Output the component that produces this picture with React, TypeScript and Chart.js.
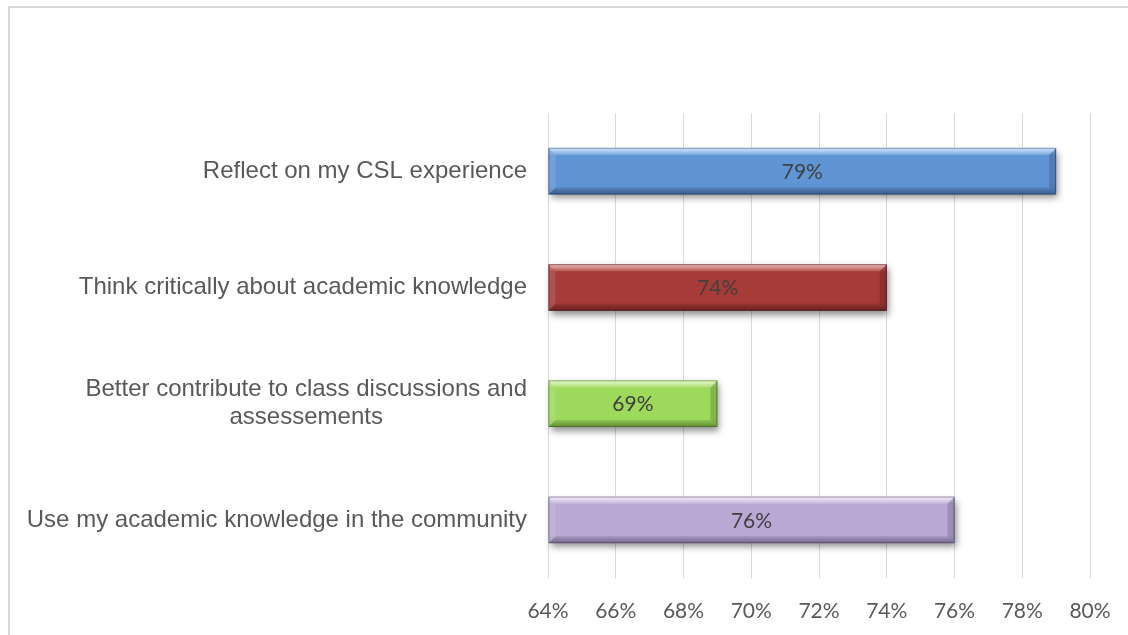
import React, { useEffect, useRef } from "react";
import { Chart, registerables } from "chart.js";

Chart.register(...registerables);

const categories: string[][] = [
  ["Reflect on my CSL experience"],
  ["Think critically about academic knowledge"],
  ["Better contribute to class discussions and", "assessements"],
  ["Use my academic knowledge in the community"],
];
const values: number[] = [79, 74, 69, 76];
const xTicks: number[] = [64, 66, 68, 70, 72, 74, 76, 78, 80];

// [top highlight, main, bottom, border]
const barPalettes: string[][] = [
  ["#a9cdf6", "#5f94d5", "#4e7fc0", "#3a649c"],
  ["#d9807b", "#a63b37", "#8e2f2b", "#6c2220"],
  ["#cdf4a0", "#9dd95b", "#87c346", "#689833"],
  ["#e4daf2", "#b9a8d4", "#a291c1", "#7b6b97"],
];

const BAR_PCT = 0.4;

export default function App() {
  const ref = useRef<HTMLCanvasElement>(null);

  useEffect(() => {
    document.body.style.margin = "0";
    const canvas = ref.current!;

    const framePlugin = {
      id: "frame",
      beforeDraw(chart: any) {
        const ctx = chart.ctx;
        ctx.save();
        ctx.fillStyle = "#ffffff";
        ctx.fillRect(0, 0, chart.width, chart.height);
        ctx.strokeStyle = "#d9d9d9";
        ctx.lineWidth = 2;
        ctx.beginPath();
        ctx.moveTo(9, chart.height + 5);
        ctx.lineTo(9, 7);
        ctx.lineTo(chart.width + 5, 7);
        ctx.stroke();
        ctx.restore();
      },
    };

    const barRect = (bar: any) => {
      const x0 = Math.min(bar.base, bar.x);
      const x1 = Math.max(bar.base, bar.x);
      const y0 = bar.y - bar.height / 2;
      const y1 = bar.y + bar.height / 2;
      return { x0, x1, y0, y1 };
    };

    const shadowPlugin = {
      id: "shadow",
      beforeDatasetsDraw(chart: any) {
        const ctx = chart.ctx;
        const meta = chart.getDatasetMeta(0);
        ctx.save();
        ctx.shadowColor = "rgba(0,0,0,0.45)";
        ctx.shadowBlur = 7;
        ctx.shadowOffsetX = 2;
        ctx.shadowOffsetY = 4;
        meta.data.forEach((bar: any, i: number) => {
          const r = barRect(bar);
          ctx.fillStyle = barPalettes[i][3];
          ctx.fillRect(r.x0, r.y0, r.x1 - r.x0, r.y1 - r.y0);
        });
        ctx.restore();
      },
      afterDatasetsDraw(chart: any) {
        const ctx = chart.ctx;
        const meta = chart.getDatasetMeta(0);
        const b = 7;
        ctx.save();
        meta.data.forEach((bar: any) => {
          const { x0, x1, y0, y1 } = barRect(bar);
          let g = ctx.createLinearGradient(0, y0, 0, y0 + b);
          g.addColorStop(0, "rgba(255,255,255,0.45)");
          g.addColorStop(1, "rgba(255,255,255,0.12)");
          ctx.fillStyle = g;
          ctx.beginPath();
          ctx.moveTo(x0, y0);
          ctx.lineTo(x1, y0);
          ctx.lineTo(x1 - b, y0 + b);
          ctx.lineTo(x0 + b, y0 + b);
          ctx.closePath();
          ctx.fill();
          g = ctx.createLinearGradient(0, y1 - b, 0, y1);
          g.addColorStop(0, "rgba(0,0,0,0.08)");
          g.addColorStop(1, "rgba(0,0,0,0.28)");
          ctx.fillStyle = g;
          ctx.beginPath();
          ctx.moveTo(x0, y1);
          ctx.lineTo(x1, y1);
          ctx.lineTo(x1 - b, y1 - b);
          ctx.lineTo(x0 + b, y1 - b);
          ctx.closePath();
          ctx.fill();
          ctx.fillStyle = "rgba(255,255,255,0.12)";
          ctx.beginPath();
          ctx.moveTo(x0, y0);
          ctx.lineTo(x0 + b, y0 + b);
          ctx.lineTo(x0 + b, y1 - b);
          ctx.lineTo(x0, y1);
          ctx.closePath();
          ctx.fill();
          ctx.fillStyle = "rgba(0,0,0,0.16)";
          ctx.beginPath();
          ctx.moveTo(x1, y0);
          ctx.lineTo(x1 - b, y0 + b);
          ctx.lineTo(x1 - b, y1 - b);
          ctx.lineTo(x1, y1);
          ctx.closePath();
          ctx.fill();
        });
        ctx.restore();
      },
    };

    const labelsPlugin = {
      id: "customLabels",
      afterDraw(chart: any) {
        const ctx = chart.ctx;
        const yScale = chart.scales.y;
        ctx.save();
        ctx.font = "24px 'Liberation Sans', Arial, sans-serif";
        ctx.fillStyle = "#595959";
        ctx.textBaseline = "middle";
        const rightX = chart.chartArea.left - 21;
        const lineH = 28;
        categories.forEach((lines, i) => {
          const cy = yScale.getPixelForValue(i);
          const widths = lines.map((l) => ctx.measureText(l).width);
          const widest = Math.max(...widths);
          const centerX = rightX - widest / 2;
          lines.forEach((l, j) => {
            const y = cy + (j - (lines.length - 1) / 2) * lineH;
            ctx.textAlign = "center";
            ctx.fillText(l, centerX, y);
          });
        });
        ctx.font = "21px Lato, 'Open Sans', sans-serif";
        ctx.fillStyle = "#404040";
        ctx.textAlign = "center";
        const meta = chart.getDatasetMeta(0);
        meta.data.forEach((bar: any, i: number) => {
          const { x0, x1 } = barRect(bar);
          ctx.fillText(values[i] + "%", (x0 + x1) / 2, bar.y + 1);
        });
        ctx.restore();
      },
    };

    const chart = new Chart(canvas, {
      type: "bar",
      data: {
        labels: categories.map((c) => c.join(" ")),
        datasets: [
          {
            data: values,
            base: 64,
            backgroundColor: (c: any) => {
              const p = barPalettes[c.dataIndex % barPalettes.length];
              const yScale = c.chart.scales && c.chart.scales.y;
              if (!yScale || c.dataIndex === undefined) return p[1];
              const cy = yScale.getPixelForValue(c.dataIndex);
              const band = yScale.height / categories.length;
              const h = band * BAR_PCT;
              if (!isFinite(cy) || !isFinite(h) || h <= 0) return p[1];
              const top = cy - h / 2;
              const g = c.chart.ctx.createLinearGradient(0, top, 0, top + h);
              g.addColorStop(0, p[0]);
              g.addColorStop(0.16, p[1]);
              g.addColorStop(0.82, p[1]);
              g.addColorStop(1, p[2]);
              return g;
            },
            borderColor: values.map((_, i) => barPalettes[i][3]),
            borderWidth: 1,
            borderSkipped: false,
            barPercentage: BAR_PCT,
            categoryPercentage: 1,
          } as any,
        ],
      },
      options: {
        indexAxis: "y",
        animation: false,
        responsive: false,
        maintainAspectRatio: false,
        layout: { padding: { left: 0, right: 38, top: 113, bottom: 0 } },
        plugins: {
          legend: { display: false },
          tooltip: { enabled: false },
          title: { display: false },
        },
        scales: {
          x: {
            min: xTicks[0],
            max: xTicks[xTicks.length - 1],
            afterBuildTicks: (scale: any) => {
              scale.ticks = xTicks.map((v) => ({ value: v }));
            },
            afterFit: (scale: any) => {
              scale.height = 57;
              scale.paddingLeft = 0;
              scale.paddingRight = 0;
            },
            grid: { color: "#d9d9d9", lineWidth: 1, drawTicks: false },
            border: { display: false },
            ticks: {
              padding: 21,
              color: "#595959",
              font: { family: "Lato, 'Open Sans', sans-serif", size: 21 },
              callback: (v: any) => v + "%",
            },
          },
          y: {
            afterFit: (scale: any) => {
              scale.width = 548;
            },
            grid: { display: false },
            border: { display: false },
            ticks: { display: false },
          },
        },
      },
      plugins: [framePlugin, shadowPlugin, labelsPlugin],
    } as any);

    return () => chart.destroy();
  }, []);

  return (
    <div style={{ position: "absolute", left: 0, top: 0, width: 1128, height: 635 }}>
      <canvas ref={ref} width={1128} height={635} style={{ display: "block" }} />
    </div>
  );
}
